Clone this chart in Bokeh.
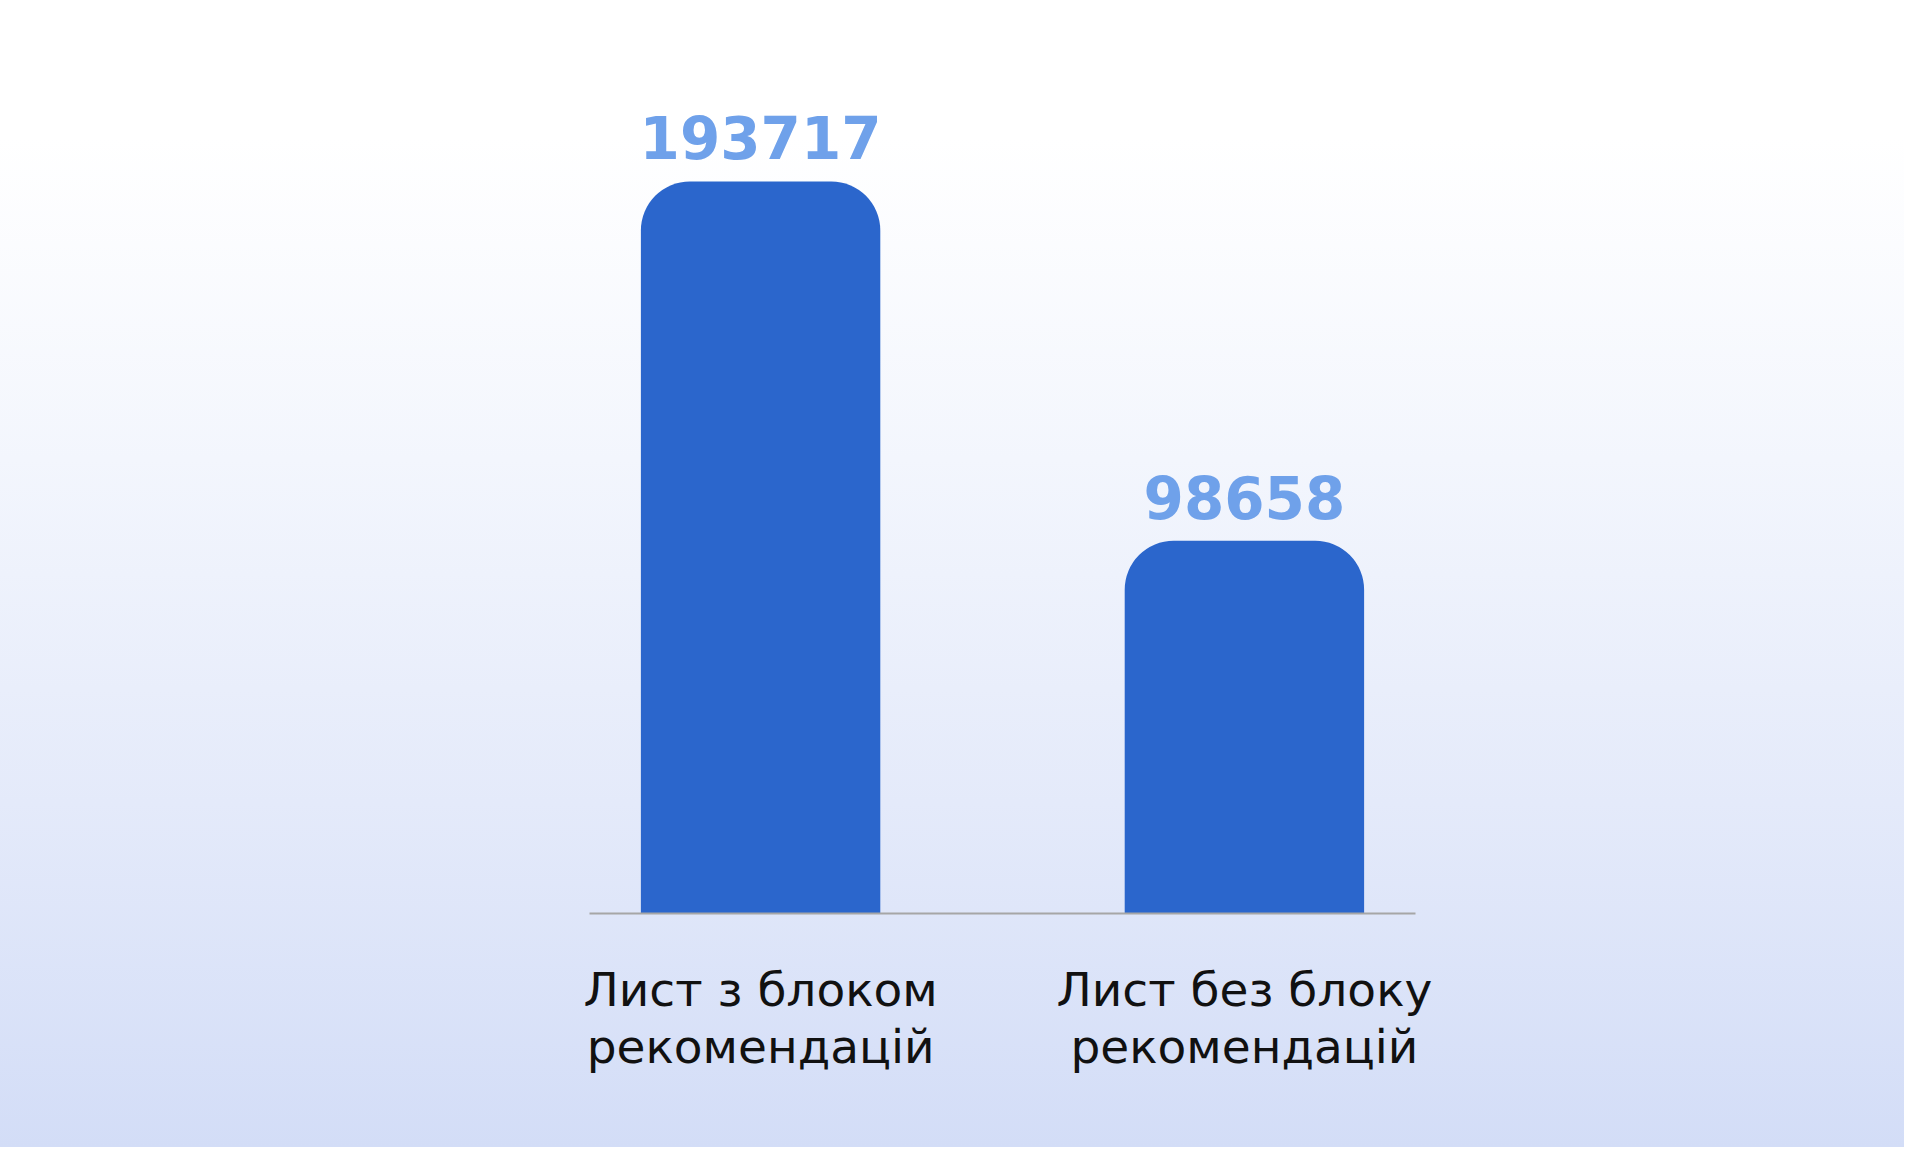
from bokeh.plotting import figure
from bokeh.models import FactorRange, Range1d, ColumnDataSource
from bokeh.core.properties import value
from bokeh.embed import file_html
from bokeh.resources import INLINE

categories = ["Лист з блоком\nрекомендацій", "Лист без блоку\nрекомендацій"]
values = [193717, 98658]
value_labels = ["193717", "98658"]

src = ColumnDataSource(dict(x=categories, top=values, lab=value_labels))

x_range = FactorRange(factors=categories, factor_padding=0.6167,
                      range_padding=0.0717, range_padding_units="absolute")
p = figure(x_range=x_range, y_range=Range1d(0, 241600),
           width=1904, height=1147, output_backend="svg", toolbar_location=None,
           min_border_left=589, min_border_right=489, min_border_top=0,
           min_border_bottom=234)
p.styles = {"background": "linear-gradient(to bottom, #ffffff 0%, #ffffff 12%, #f3f6fd 40%, #e4eafa 70%, #d3ddf7 100%)"}
p.background_fill_alpha = 0
p.border_fill_alpha = 0
p.outline_line_color = None
p.grid.visible = False
p.yaxis.visible = False

p.vbar(x="x", top="top", width=0.8, source=src, fill_color="#2b66cc",
       line_color=None, border_radius=(49, 49, 0, 0))

p.text(x="x", y="top", text="lab", source=src, y_offset=-22,
       text_align="center", text_baseline="bottom",
       text_font=value("DejaVu Sans"), text_font_style="bold",
       text_font_size="58px", text_color="#6fa1ea")

ax = p.xaxis[0]
ax.axis_line_color = "#a6a6a6"
ax.axis_line_width = 2
ax.major_tick_line_color = None
ax.minor_tick_line_color = None
ax.major_label_standoff = 42
ax.major_label_text_font = "DejaVu Sans"
ax.major_label_text_font_size = "47px"
ax.major_label_text_color = "#111111"
ax.major_label_text_line_height = 1.05

open("out.html", "w").write(file_html(p, INLINE))
